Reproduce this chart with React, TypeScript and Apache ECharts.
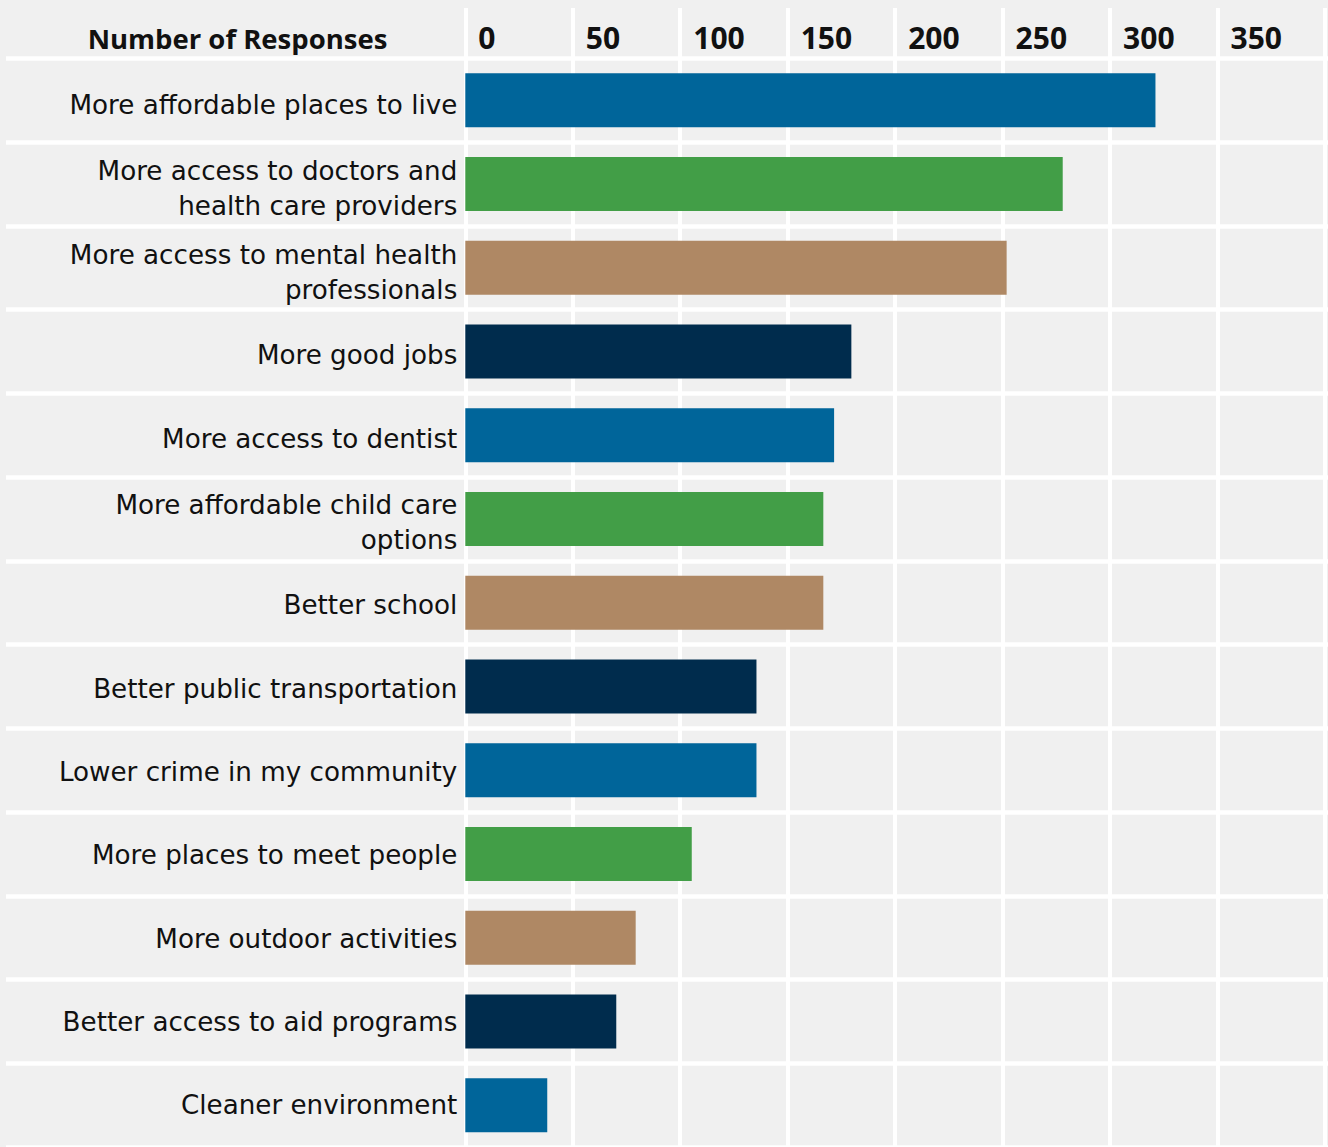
import React, { useEffect, useRef } from "react";
import * as echarts from "echarts";

const categories = [
  "More affordable places to live",
  "More access to doctors and\nhealth care providers",
  "More access to mental health\nprofessionals",
  "More good jobs",
  "More access to dentist",
  "More affordable child care\noptions",
  "Better school",
  "Better public transportation",
  "Lower crime in my community",
  "More places to meet people",
  "More outdoor activities",
  "Better access to aid programs",
  "Cleaner environment",
];
const values = [320, 277, 251, 179, 171, 166, 166, 135, 135, 105, 79, 70, 38];
const palette = ["#00659a", "#429e47", "#af8864", "#002c4d"];
const tickValues = [0, 50, 100, 150, 200, 250, 300, 350];
const axisMin = 0;
const axisMax = 400;
const headerTitle = "Number of Responses";

export default function App() {
  const ref = useRef<HTMLDivElement>(null);
  useEffect(() => {
    if (!ref.current) return;
    const chart = echarts.init(ref.current, null, { renderer: "svg" });
    const plotLeft = 465.3;
    const plotWidth = 864;
    const rowsTop = 58.3;
    const rowsHeight = 1092;
    chart.setOption({
      animation: false,
      backgroundColor: "#f0f0f0",
      grid: [
        { left: plotLeft, top: 8, width: plotWidth, height: 1150, containLabel: false },
        { left: 6, top: rowsTop, right: 0, height: rowsHeight, containLabel: false },
        { left: plotLeft, top: rowsTop, width: plotWidth, height: rowsHeight, containLabel: false },
        { left: plotLeft, top: rowsTop + 5.5, width: plotWidth, height: rowsHeight, containLabel: false },
      ],
      graphic: [
        {
          type: "text",
          x: 237.5,
          y: 38,
          style: {
            text: headerTitle,
            fontFamily: "Open Sans",
            fontWeight: "bold",
            fontSize: 27.5,
            fill: "#111",
            align: "center",
            verticalAlign: "middle",
          },
        },
      ],
      xAxis: [
        {
          gridIndex: 0,
          type: "value",
          min: axisMin,
          max: axisMax,
          interval: 50,
          position: "top",
          axisLine: { show: false },
          axisTick: { show: false },
          splitLine: { show: true, lineStyle: { color: "#ffffff", width: 4 } },
          axisLabel: {
            inside: true,
            margin: 29,
            align: "left",
            verticalAlign: "middle",
            padding: [0, 0, 0, 13],
            fontFamily: "Open Sans",
            fontWeight: "bold",
            fontSize: 30,
            color: "#111",
            formatter: (v: number) => (tickValues.includes(v) ? String(v) : ""),
          },
        },
        { gridIndex: 1, type: "value", show: false, splitLine: { show: false } },
        {
          gridIndex: 2,
          type: "value",
          min: axisMin,
          max: axisMax,
          show: false,
          splitLine: { show: false },
        },
        { gridIndex: 3, type: "value", show: false, splitLine: { show: false } },
      ],
      yAxis: [
        { gridIndex: 0, type: "value", show: false, splitLine: { show: false } },
        {
          gridIndex: 1,
          type: "category",
          data: categories,
          inverse: true,
          axisLine: { show: false },
          axisTick: { show: false },
          axisLabel: { show: false },
          splitLine: { show: true, lineStyle: { color: "#ffffff", width: 4.5 } },
        },
        {
          gridIndex: 2,
          type: "category",
          data: categories,
          inverse: true,
          axisLine: { show: false },
          axisTick: { show: false },
          splitLine: { show: false },
          axisLabel: { show: false },
        },
        {
          gridIndex: 3,
          type: "category",
          data: categories,
          inverse: true,
          axisLine: { show: false },
          axisTick: { show: false },
          splitLine: { show: false },
          axisLabel: {
            margin: 8,
            align: "right",
            fontFamily: "DejaVu Sans",
            fontSize: 26.2,
            lineHeight: 35,
            color: "#111",
          },
        },
      ],
      series: [
        {
          type: "bar",
          xAxisIndex: 2,
          yAxisIndex: 2,
          barWidth: 54,
          data: values.map((v, i) => ({
            value: v,
            itemStyle: { color: palette[i % palette.length] },
          })),
        },
      ],
    });
    return () => chart.dispose();
  }, []);
  return (
    <div
      ref={ref}
      style={{ position: "fixed", left: 0, top: 0, width: 1328, height: 1147 }}
    />
  );
}
